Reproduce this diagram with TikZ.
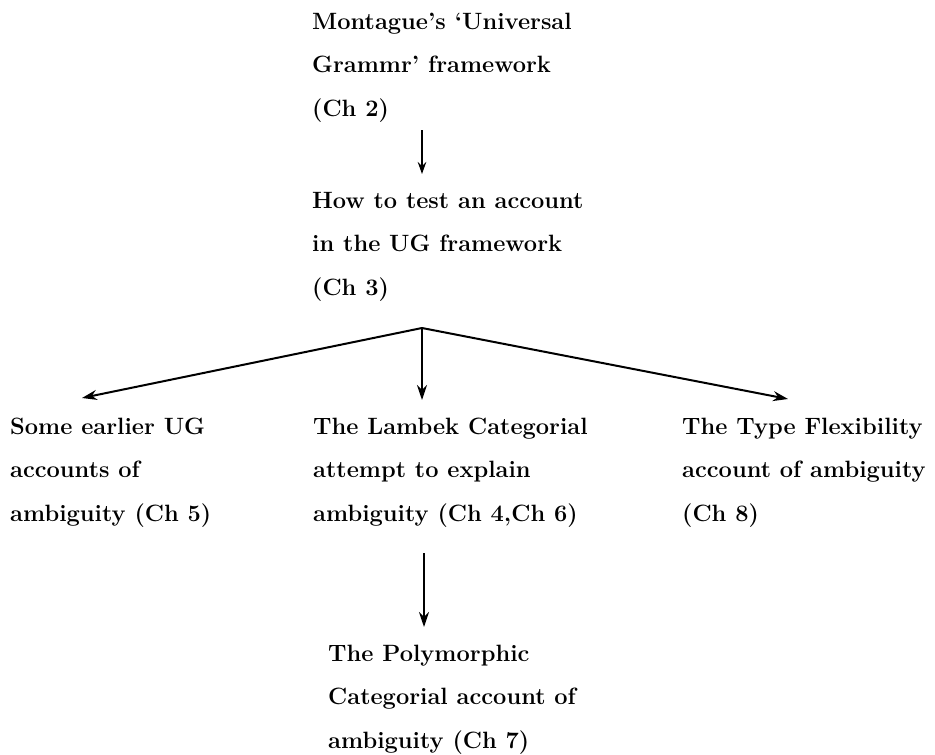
\documentclass[tikz,border=0pt]{standalone}
\usetikzlibrary{arrows.meta}
\begin{document}
\begin{tikzpicture}[x=1pt,y=-1pt,
  lbl/.style={anchor=base west, align=left, inner sep=0pt,
    font=\fontsize{23.6}{43.2}\selectfont\bfseries},
  conn/.style={line width=2pt, -{Stealth[length=15pt,width=10pt,inset=5pt]}},
  smallconn/.style={line width=2pt, -{Stealth[length=12pt,width=8.5pt,inset=4pt]}}]
\useasboundingbox (0,0) rectangle (935,755);

% chapter texts, placed by the baseline of their last line
\node[lbl] (ug)    at (312,116) {Montague's `Universal\\Grammr' framework\\(Ch 2)};
\node[lbl] (test)  at (312,295) {How to test an account\\in the UG framework\\(Ch 3)};
\node[lbl] (early) at (10,521)  {Some earlier UG\\accounts of\\ambiguity (Ch 5)};
\node[lbl] (lamb)  at (313,521) {The Lambek Categorial\\attempt to explain\\ambiguity (Ch 4,Ch 6)};
\node[lbl] (flex)  at (682,521) {The Type Flexibility\\account of ambiguity\\(Ch 8)};
\node[lbl] (poly)  at (328,748) {The Polymorphic\\Categorial account of\\ambiguity (Ch 7)};

% connector end points
\coordinate (ugout)   at (422,130);
\coordinate (testin)  at (422,174);
\coordinate (split)   at (422,328);
\coordinate (earlyin) at (82,398);
\coordinate (lambin)  at (422,400);
\coordinate (flexin)  at (788,399);
\coordinate (lambout) at (424,553);
\coordinate (polyin)  at (424,627);

\draw[smallconn] (ugout) -- (testin);
\draw[conn] (split) -- (earlyin);
\draw[conn] (split) -- (lambin);
\draw[conn] (split) -- (flexin);
\draw[conn] (lambout) -- (polyin);
\end{tikzpicture}
\end{document}
